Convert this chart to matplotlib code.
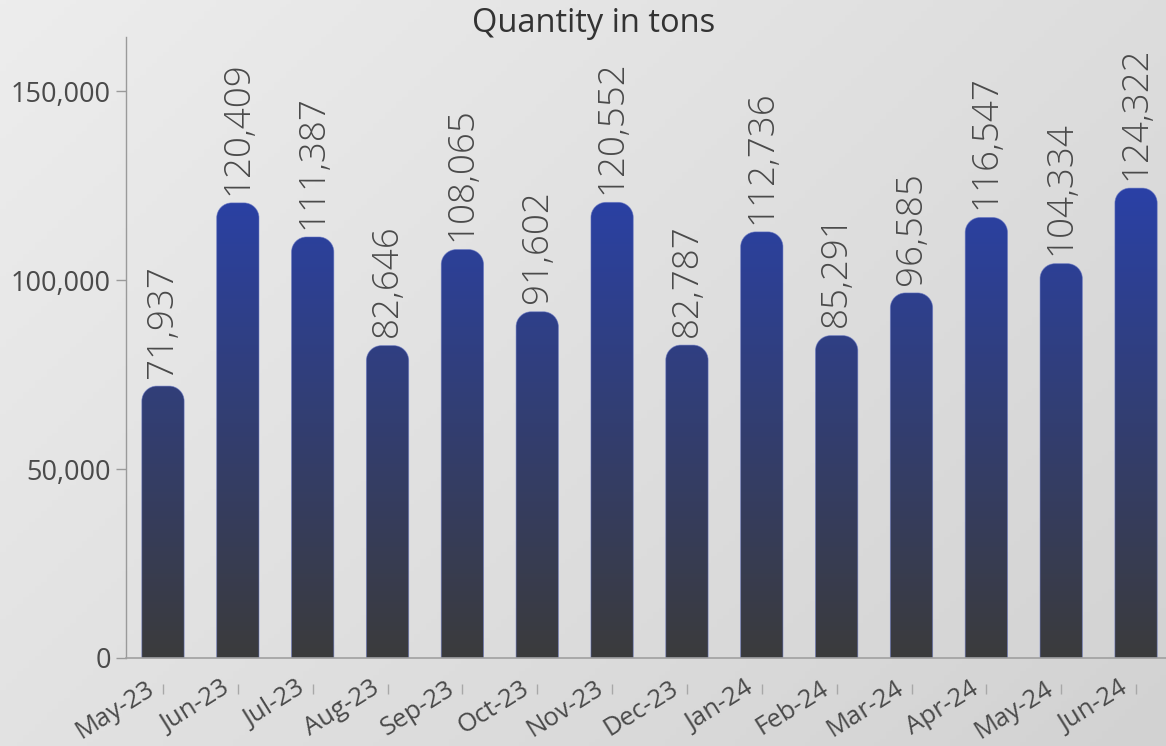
import matplotlib
matplotlib.use("Agg")
import matplotlib.pyplot as plt
import numpy as np
from matplotlib.path import Path
from matplotlib.patches import PathPatch
from matplotlib.ticker import FuncFormatter
from matplotlib.colors import to_rgb
from matplotlib.transforms import ScaledTranslation

# ---------------- data ----------------
months = ["May-23", "Jun-23", "Jul-23", "Aug-23", "Sep-23", "Oct-23", "Nov-23",
          "Dec-23", "Jan-24", "Feb-24", "Mar-24", "Apr-24", "May-24", "Jun-24"]
quantity = [71937, 120409, 111387, 82646, 108065, 91602, 120552,
            82787, 112736, 85291, 96585, 116547, 104334, 124322]
yticks = [0, 50000, 100000, 150000]
title = "Quantity in tons"

# ---------------- style ----------------
W, H, DPI = 11.66, 7.46, 100
font = "Open Sans"
text_col = "#4a4a4a"
blue = "#2a41a6"
gray = "#3b3b3c"

fig = plt.figure(figsize=(W, H), dpi=DPI)

# background gradient
bg = fig.add_axes([0, 0, 1, 1], zorder=-10)
bg.set_axis_off()
yy, xx = np.mgrid[0:1:200j, 0:1:200j]
t = (xx * 0.6 + yy * 0.4)
c0 = np.array(to_rgb("#ededed"))
c1 = np.array(to_rgb("#d2d2d2"))
img = c0[None, None, :] * (1 - t[..., None]) + c1[None, None, :] * t[..., None]
bg.imshow(img, extent=(0, 1, 0, 1), aspect="auto", origin="upper")
bg.set_xlim(0, 1); bg.set_ylim(0, 1)

left, bottom = 126 / 1166, (746 - 658) / 746
top = 1 - 37 / 746
ax = fig.add_axes([left, bottom, 1 - left, top - bottom])
ax.patch.set_alpha(0)

x = np.arange(len(months))
bw = 0.565
XL = (-0.494, 13.40)
YL = (0, 164300)
bars = ax.bar(x, quantity, width=bw, color="none", edgecolor="none")
ax.set_xlim(*XL)
ax.set_ylim(*YL)

# rounded-top bars clip path in axes coords
ax_w_px = (1 - left) * W * DPI
ax_h_px = (top - bottom) * H * DPI
r_px = 15
rx, ry = r_px / ax_w_px, r_px / ax_h_px
k = 0.5523
to_axes = ax.transData + ax.transAxes.inverted()
verts, codes = [], []
for rect in bars:
    (x0, y0) = to_axes.transform((rect.get_x(), 0))
    (x1, y1) = to_axes.transform((rect.get_x() + rect.get_width(), rect.get_height()))
    v = [(x0, y0), (x0, y1 - ry),
         (x0, y1 - ry + k * ry), (x0 + rx - k * rx, y1), (x0 + rx, y1),
         (x1 - rx, y1),
         (x1 - rx + k * rx, y1), (x1, y1 - ry + k * ry), (x1, y1 - ry),
         (x1, y0), (x0, y0)]
    c = [Path.MOVETO, Path.LINETO,
         Path.CURVE4, Path.CURVE4, Path.CURVE4,
         Path.LINETO,
         Path.CURVE4, Path.CURVE4, Path.CURVE4,
         Path.LINETO, Path.CLOSEPOLY]
    verts += v; codes += c
path = Path(verts, codes)
clip = PathPatch(path, transform=ax.transAxes, facecolor="none",
                 edgecolor="#6474c4", lw=0.6, alpha=0.6, zorder=3)
ax.add_patch(clip)

vmax = max(quantity)
n = 256
f = np.linspace(0, 1, n)[:, None]
cb, cg = np.array(to_rgb(blue)), np.array(to_rgb(gray))
grad = cg[None, :] * (1 - f) + cb[None, :] * f
grad = grad[:, None, :]
im = ax.imshow(grad, extent=(XL[0], XL[1], 0, vmax), origin="lower",
               aspect="auto", zorder=2)
im.set_clip_path(clip)
ax.set_xlim(*XL)
ax.set_ylim(*YL)

# value labels
for xi, v in zip(x, quantity):
    ax.annotate(f"{v:,}", (xi, v), xytext=(0, 6), textcoords="offset points",
                rotation=90, ha="center", va="bottom", fontsize=26.5,
                fontfamily=font, fontweight="light", color=text_col, zorder=5)

# axes styling
for s in ["top", "right"]:
    ax.spines[s].set_visible(False)
ax.spines["left"].set_color("#9a9a9a")
ax.spines["left"].set_linewidth(1.0)
ax.spines["bottom"].set_position(("outward", 19))
ax.spines["bottom"].set_color("none")
ax.axhline(0, color="#a0a0a0", lw=1.2, zorder=4, clip_on=False)

ax.set_yticks(yticks)
ax.yaxis.set_major_formatter(FuncFormatter(lambda v, p: f"{int(v):,}"))
ax.tick_params(axis="y", length=7, width=1, color="#9a9a9a", pad=4,
               labelsize=19.5, labelcolor=text_col)
for lab in ax.get_yticklabels():
    lab.set_fontfamily(font)

ax.set_xticks(x)
ax.set_xticklabels([""] * len(months))
ax.tick_params(axis="x", length=7, width=1, color="#a8a8a8", pad=0)

# x category labels (rotated), anchored left of each tick
xform = ax.get_xaxis_transform() + ScaledTranslation(-17 / DPI, -18 / DPI,
                                                      fig.dpi_scale_trans)
for xi, m in zip(x, months):
    ax.text(xi, 0, m, transform=xform, rotation=32, rotation_mode="anchor",
            ha="right", va="top", fontsize=18.5, fontfamily=font,
            color=text_col, clip_on=False)

fig.text(594 / 1166, 1 - 23 / 746, title, ha="center", va="center",
         fontsize=23.5, fontfamily=font, color="#333333")

fig.savefig("out.png", dpi=DPI)
